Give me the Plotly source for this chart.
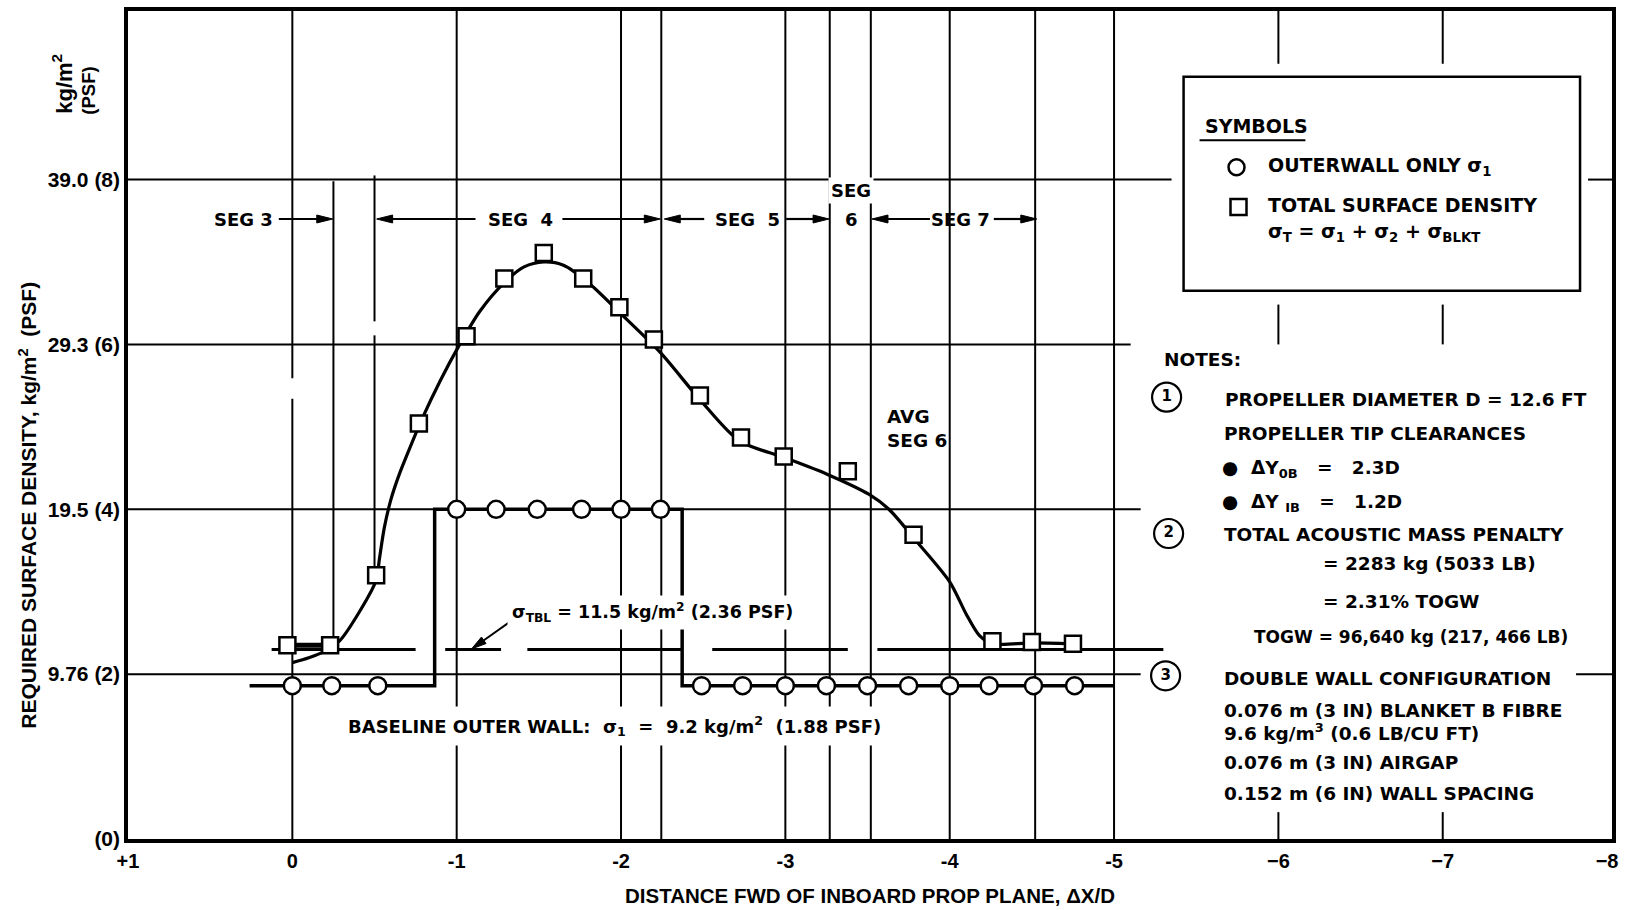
import math
import plotly.graph_objects as go

# ---------------- data (y in PSF, x in dX/D) ----------------
x_tick_vals = [1, 0, -1, -2, -3, -4, -5, -6, -7, -8]
x_tick_text = ["+1", "0", "-1", "-2", "-3", "-4", "-5", "\u22126", "\u22127", "\u22128"]
y_tick_vals = [0, 2, 4, 6, 8]
y_tick_text = ["(0)", "9.76 (2)", "19.5 (4)", "29.3 (6)", "39.0 (8)"]

# total surface density sigma_T (squares)
total_x = [0.03, -0.23, -0.51, -0.77, -1.06, -1.29, -1.53, -1.77, -1.99, -2.20,
           -2.48, -2.73, -2.99, -3.38, -3.78, -4.26, -4.50, -4.75]
total_y = [2.35, 2.35, 3.20, 5.04, 6.10, 6.80, 7.11, 6.80, 6.45, 6.06,
           5.38, 4.87, 4.64, 4.46, 3.69, 2.40, 2.39, 2.37]

# faired curve drawn through the total density points
fair_x = [0.0, -0.10, -0.20, -0.29, -0.40, -0.51, -0.53, -0.56, -0.60, -0.65,
          -0.71, -0.79, -0.90, -1.01, -1.14, -1.29, -1.41, -1.53, -1.65, -1.80,
          -2.00, -2.24, -2.48, -2.72, -2.99, -3.26, -3.51, -3.63, -3.79, -4.00,
          -4.10, -4.18, -4.26, -4.50, -4.75]
fair_y = [2.14, 2.20, 2.28, 2.41, 2.73, 3.14, 3.40, 3.78, 4.12, 4.42,
          4.72, 5.10, 5.56, 5.97, 6.40, 6.75, 6.94, 7.00, 6.96, 6.75,
          6.37, 5.90, 5.33, 4.83, 4.63, 4.42, 4.18, 4.00, 3.63, 3.12,
          2.73, 2.47, 2.37, 2.38, 2.37]

# outer wall only sigma_1 (circles)
outer_x = [0.0, -0.24, -0.52, -1.0, -1.24, -1.49, -1.76, -2.0, -2.24, -2.49,
           -2.74, -3.0, -3.25, -3.5, -3.75, -4.0, -4.24, -4.51, -4.76]
outer_y = [1.86, 1.86, 1.86, 4.0, 4.0, 4.0, 4.0, 4.0, 4.0, 1.86,
           1.86, 1.86, 1.86, 1.86, 1.86, 1.86, 1.86, 1.86, 1.86]

# outer wall level per segment (stepped line)
wall_x = [0.26, -0.866, -0.866, -2.372, -2.372, -5.0]
wall_y = [1.86, 1.86, 4.0, 4.0, 1.86, 1.86]

# sigma_TBL level, drawn as a broken line
tbl_level = 2.30
tbl_x = [0.126, -0.75, None, -0.93, -1.27, None, -1.43, -2.372, None,
         -2.555, -3.38, None, -3.56, -5.30]
tbl_y = [tbl_level if v is not None else None for v in tbl_x]

# segment boundaries
seg_bounds = [-2.245, -3.27, -3.52, -4.52]

# ---------------- geometry helpers ----------------
W, H = 1625, 910
ML, MR, MT, MB = 128, 11, 7, 71
XR = [1.0, -8.03]
YR = [0.0, 10.045]
UX = (W - ML - MR) / (XR[0] - XR[1])
UY = (H - MT - MB) / (YR[1] - YR[0])


def X(px):
    return XR[0] - (px - ML) / UX


def Y(py):
    return (H - MB - py) / UY


def PX(px):
    return (px - ML) / (W - ML - MR)


def PY(py):
    return (H - MB - py) / (H - MT - MB)


FA = "Liberation Sans"
FB = "DejaVu Sans"
BLACK = "black"

fig = go.Figure()

# ---------------- traces ----------------
fig.add_trace(go.Scatter(x=tbl_x, y=tbl_y, mode="lines",
                         line=dict(color=BLACK, width=3), hoverinfo="skip"))
fig.add_trace(go.Scatter(x=wall_x, y=wall_y, mode="lines",
                         line=dict(color=BLACK, width=3.5), hoverinfo="skip"))
fig.add_trace(go.Scatter(x=fair_x, y=fair_y, mode="lines",
                         line=dict(color=BLACK, width=3.2, shape="spline", smoothing=0.8),
                         hoverinfo="skip"))
fig.add_trace(go.Scatter(x=total_x[:2], y=total_y[:2], mode="lines",
                         line=dict(color=BLACK, width=5), hoverinfo="skip"))
fig.add_trace(go.Scatter(x=total_x, y=total_y, mode="markers",
                         marker=dict(symbol="square", size=16, color="white",
                                     line=dict(color=BLACK, width=2.5))))
fig.add_trace(go.Scatter(x=outer_x, y=outer_y, mode="markers",
                         marker=dict(symbol="circle", size=17, color="white",
                                     line=dict(color=BLACK, width=2.5))))

# legend symbols inside the SYMBOLS box
fig.add_trace(go.Scatter(x=[X(1238)], y=[Y(164)], mode="markers",
                         marker=dict(symbol="circle", size=16, color="white",
                                     line=dict(color=BLACK, width=2.5))))
fig.add_trace(go.Scatter(x=[X(1240)], y=[Y(204)], mode="markers",
                         marker=dict(symbol="square", size=16, color="white",
                                     line=dict(color=BLACK, width=2.5))))

# note number circles
fig.add_trace(go.Scatter(x=[X(1168), X(1170), X(1167)], y=[Y(395), Y(532), Y(675)],
                         mode="markers+text", text=["1", "2", "3"],
                         textposition="middle center",
                         textfont=dict(family=FB, size=15, color=BLACK, weight="bold"),
                         marker=dict(symbol="circle", size=29, color="white",
                                     line=dict(color=BLACK, width=2.2))))

# ---------------- grid / frame shapes ----------------
shapes = []


def vseg(x, y0, y1, w=2):
    shapes.append(dict(type="line", xref="x", yref="y", x0=x, x1=x, y0=y0, y1=y1,
                       line=dict(color=BLACK, width=w), layer="below"))


def hseg(y, x0, x1, w=2):
    shapes.append(dict(type="line", xref="x", yref="y", x0=x0, x1=x1, y0=y, y1=y,
                       line=dict(color=BLACK, width=w), layer="below"))


top = YR[1]
vseg(0, 0, 5.34)
vseg(0, 5.59, top)
for xv in [-1, -2, -3, -4, -5] + seg_bounds:
    vseg(xv, 0, top)
vseg(-0.25, total_y[1], 7.98)
vseg(-0.5, total_y[2], 6.11)
vseg(-0.5, 6.28, 8.05)
for xv in [-6, -7]:
    vseg(xv, Y(60), top)
    vseg(xv, Y(342), Y(302))
    vseg(xv, 0, Y(812))
hseg(2, XR[0], X(1142))
hseg(2, X(1578), XR[1])
hseg(4, XR[0], X(1142))
hseg(6, XR[0], X(1132))
hseg(8, XR[0], X(1173))
hseg(8, X(1590), XR[1])

# SYMBOLS box
shapes.append(dict(type="rect", xref="x", yref="y", x0=X(1185), x1=X(1582),
                   y0=Y(288), y1=Y(73), line=dict(color=BLACK, width=2.5),
                   fillcolor="white", layer="below"))
# SYMBOLS underline
shapes.append(dict(type="line", xref="x", yref="y", x0=X(1201), x1=X(1307),
                   y0=Y(137), y1=Y(137), line=dict(color=BLACK, width=2)))


def arrow(tail, tip, head_len=16, head_w=8, width=2.2):
    (x0, y0), (x1, y1) = tail, tip
    L = math.hypot(x1 - x0, y1 - y0)
    ux, uy = (x1 - x0) / L, (y1 - y0) / L
    bx, by = x1 - ux * head_len, y1 - uy * head_len
    nx, ny = -uy, ux
    shapes.append(dict(type="line", xref="x", yref="y", x0=X(x0), y0=Y(y0),
                       x1=X(bx + ux * 2), y1=Y(by + uy * 2),
                       line=dict(color=BLACK, width=width)))
    pts = [(x1, y1), (bx + nx * head_w / 2, by + ny * head_w / 2),
           (bx - nx * head_w / 2, by - ny * head_w / 2)]
    path = "M" + " L".join(f"{X(a):.5f},{Y(b):.5f}" for a, b in pts) + " Z"
    shapes.append(dict(type="path", xref="x", yref="y", path=path,
                       fillcolor=BLACK, line=dict(color=BLACK, width=1)))


SEGY = 216
arrow((279, SEGY), (333, SEGY))
arrow((476, SEGY), (377, SEGY))
arrow((563, SEGY), (661, SEGY))
arrow((705, SEGY), (665, SEGY))
arrow((787, SEGY), (830, SEGY))
arrow((931, SEGY), (873, SEGY))
arrow((995, SEGY), (1038, SEGY))
arrow((513, 619), (472, 648), head_len=15, head_w=8, width=2)

# ---------------- annotations ----------------
anns = []


def ann(text, px, py, size=18.5, family=FB, xanchor="left", yanchor="middle",
        bg=None, pad=1, angle=0, align="left", paper=False):
    if paper:
        d = dict(x=PX(px), y=PY(py), xref="paper", yref="paper")
    else:
        d = dict(x=X(px), y=Y(py), xref="x", yref="y")
    d.update(text=text, showarrow=False,
             xanchor=xanchor, yanchor=yanchor, align=align, textangle=angle,
             font=dict(family=family, size=size, color=BLACK, weight="bold"),
             borderpad=pad)
    if bg:
        d["bgcolor"] = bg
    anns.append(d)


ann("SEG 3", 275, SEGY, size=18, xanchor="right")
ann("SEG  4", 521, SEGY, size=18, xanchor="center")
ann("SEG  5", 748, SEGY, size=18, xanchor="center")
ann("SEG", 852, 187, size=18, xanchor="center", bg="white", pad=2)
ann("6", 852, SEGY, size=18, xanchor="center")
ann("SEG 7", 962, SEGY, size=18, xanchor="center")

ann("AVG<br>SEG 6", 886, 427, size=18.5)

ann("\u03c3<sub>TBL</sub> = 11.5 kg/m<sup>2</sup> (2.36 PSF)", 508, 611, size=17.5,
    bg="white", pad=4)

ann("BASELINE OUTER WALL:  \u03c3<sub>1</sub>  =  9.2 kg/m<sup>2</sup>  (1.88 PSF)",
    341, 725, size=18, bg="white", pad=6)

# SYMBOLS box text
ann("SYMBOLS", 1204, 123, size=19)
ann("OUTERWALL ONLY \u03c3<sub>1</sub>", 1268, 163, size=19)
ann("TOTAL SURFACE DENSITY", 1268, 202, size=19)
ann("\u03c3<sub>T</sub> = \u03c3<sub>1</sub> + \u03c3<sub>2</sub> + \u03c3<sub>BLKT</sub>",
    1268, 230, size=19)

# notes
ann("NOTES:", 1163, 357, size=18.5)
ann("PROPELLER DIAMETER D = 12.6 FT", 1224, 397, size=18.5)
ann("PROPELLER TIP CLEARANCES", 1223, 432, size=18.5)
ann("\u25cf  \u0394Y<sub>0B</sub>   =   2.3D", 1221, 467, size=18.5)
ann("\u25cf  \u0394Y <sub>IB</sub>   =   1.2D", 1221, 501, size=18.5)
ann("TOTAL ACOUSTIC MASS PENALTY", 1223, 533, size=18.5)
ann("= 2283 kg (5033 LB)", 1323, 562, size=18.5)
ann("= 2.31% TOGW", 1323, 600, size=18.5)
ann("TOGW = 96,640 kg (217, 466 LB)", 1254, 636, size=17)
ann("DOUBLE WALL CONFIGURATION", 1223, 678, size=18.5)
ann("0.076 m (3 IN) BLANKET B FIBRE", 1223, 710, size=18.5)
ann("9.6 kg/m<sup>3</sup> (0.6 LB/CU FT)", 1223, 731, size=18.5)
ann("0.076 m (3 IN) AIRGAP", 1223, 762, size=18.5)
ann("0.152 m (6 IN) WALL SPACING", 1223, 793, size=18.5)

# axis titles and unit labels (outside the plot area: paper coordinates)
ann("DISTANCE FWD OF INBOARD PROP PLANE, \u0394X/D", 871, 896, size=20.5, family=FA,
    xanchor="center", paper=True)
ann("REQUIRED SURFACE DENSITY, kg/m<sup>2</sup>  (PSF)", 27, 504, size=21,
    family=FA, xanchor="center", angle=-90, paper=True)
ann("kg/m<sup>2</sup>", 62, 80, size=22, family=FA, xanchor="center", angle=-90,
    paper=True)
ann("(PSF)", 89, 87, size=18.5, family=FA, xanchor="center", angle=-90, paper=True)

fig.update_layout(
    width=W, height=H, autosize=False,
    margin=dict(l=ML, r=MR, t=MT, b=MB, pad=0),
    paper_bgcolor="white", plot_bgcolor="white",
    showlegend=False,
    shapes=shapes, annotations=anns,
    xaxis=dict(range=XR, tickvals=x_tick_vals, ticktext=x_tick_text,
               showgrid=False, zeroline=False, showline=True, mirror=True,
               linewidth=3.5, linecolor=BLACK, ticks="", ticklabelstandoff=1,
               tickfont=dict(family=FA, size=20, color=BLACK, weight="bold"),
               fixedrange=True),
    yaxis=dict(range=YR, tickvals=y_tick_vals, ticktext=y_tick_text,
               showgrid=False, zeroline=False, showline=True, mirror=True,
               linewidth=3.5, linecolor=BLACK, ticks="", ticklabelstandoff=0,
               tickfont=dict(family=FA, size=21, color=BLACK, weight="bold"),
               fixedrange=True),
)

fig.write_html("out.html")
